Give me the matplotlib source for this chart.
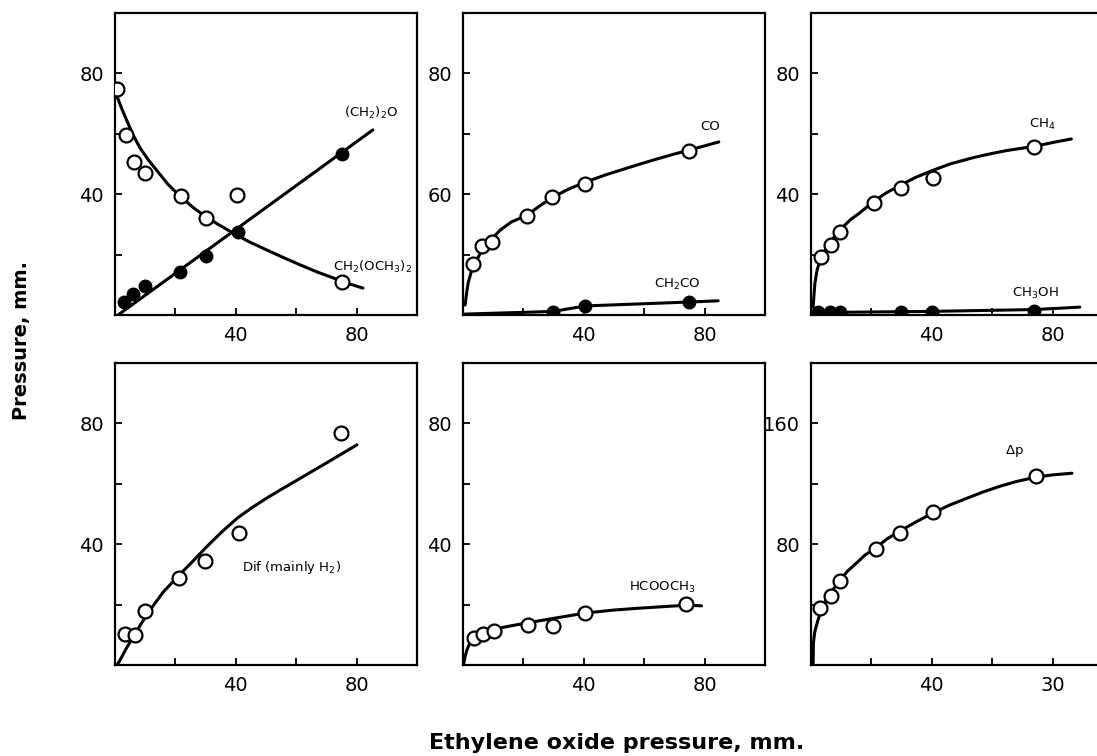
import numpy as np
import matplotlib
matplotlib.use("Agg")
import matplotlib.pyplot as plt

# ---- data (x = ethylene oxide pressure, mm) ----
# panel a: CH2(OCH3)2 (open) and (CH2)2O (filled)
dme_x = [0.5, 3.6, 6.3, 9.9, 21.9, 30.1, 40.4, 75.2]
dme_y = [75, 59.6, 50.7, 47, 39.4, 32.1, 39.7, 10.9]
dme_fit_x = [0.3, 1.5, 2.7, 4, 6, 8.3, 11, 13.9, 17.5, 21.9, 26, 30.1, 34.5, 39, 44.5, 50.3, 55.8, 61.3, 66.8, 72.2, 77, 82.1]
dme_fit_y = [73.5, 70.2, 67.2, 64.2, 59.6, 55.3, 51.4, 47.8, 43.3, 39, 35.5, 32.5, 29.8, 27.2, 24.2, 21.5, 19, 16.6, 14.3, 12.3, 10.5, 8.9]
eo_x = [3, 6, 9.9, 21.5, 30.1, 40.7, 75.2]
eo_y = [4.3, 7, 9.6, 14.2, 19.5, 27.5, 53.3]
eo_fit_x = [1, 85.4]
eo_fit_y = [0, 61.3]

# panel b: CO (open) and CH2CO (filled)
co_x = [3.3, 6.3, 9.6, 21.3, 29.6, 40.5, 74.8]
co_y = [16.9, 22.8, 24.2, 32.8, 39.1, 43.4, 54.3]
co_fit_x = [0.7, 1.2, 1.7, 2.7, 4, 5.5, 7.3, 9.5, 12.3, 16, 21.3, 25.5, 29.9, 35, 40.5, 47.5, 54.5, 60, 65.4, 70, 74.8, 80, 84.7]
co_fit_y = [3.3, 7.3, 10.6, 14.2, 17.2, 20, 22.5, 25.2, 28.1, 30.8, 33.1, 36.2, 39.1, 41.7, 44, 46.5, 48.7, 50.4, 52, 53.3, 54.6, 56, 57.3]
ket_x = [29.9, 40.5, 74.8]
ket_y = [0.9, 3, 4.3]
ket_fit_x = [0.5, 24, 30, 40.5, 75, 84.5]
ket_fit_y = [0.3, 1, 1.2, 3, 4.3, 4.7]

# panel c: CH4 (open) and CH3OH (filled)
ch4_x = [3.3, 6.6, 9.5, 20.7, 29.9, 40.5, 73.7]
ch4_y = [19.2, 23.2, 27.5, 37.1, 42.1, 45.4, 55.6]
ch4_fit_x = [0.7, 1.0, 1.3, 2, 3, 4.5, 6.3, 8, 10.2, 13, 16.1, 21, 25, 29.9, 34.5, 40.1, 46, 53.3, 59, 64.5, 69, 73.7, 80, 86.2]
ch4_fit_y = [2.6, 6.8, 10.6, 14.8, 18.2, 21.2, 23.8, 26.3, 28.8, 31.5, 33.8, 37.8, 40.5, 43.1, 45.5, 47.8, 50, 52, 53.3, 54.4, 55.1, 55.8, 57.1, 58.3]
meoh_x = [2.3, 6.3, 9.5, 29.9, 40.1, 74]
meoh_y = [1, 1, 1, 1.1, 1.1, 1.2]
meoh_fit_x = [0.5, 40, 74, 89]
meoh_fit_y = [0.8, 1.2, 1.8, 2.6]

# panel d: difference (mainly H2)
h2_x = [3.3, 6.6, 9.9, 21.2, 29.8, 41.1, 74.8]
h2_y = [10.2, 9.9, 17.8, 28.7, 34.3, 43.6, 76.9]
h2_fit_x = [0.7, 1.7, 3.8, 6, 8.8, 11.6, 16, 21.2, 26, 30.5, 35.5, 40.7, 45.5, 50.3, 55.3, 60.3, 65.2, 70.2, 75.2, 80.1]
h2_fit_y = [0, 1.7, 5.6, 9.2, 13.9, 18.2, 24.2, 29.7, 34.6, 39.3, 44.2, 48.8, 52.2, 55.3, 58.3, 61.2, 64.1, 67, 70, 72.9]

# panel e: HCOOCH3
mf_x = [3.6, 6.6, 10.2, 21.4, 29.9, 40.5, 74]
mf_y = [8.9, 10.2, 11.2, 13.2, 12.9, 17.2, 20.1]
mf_fit_x = [0.3, 0.7, 1.3, 2.2, 3.3, 4.8, 6.6, 10.5, 15.5, 21, 30.3, 40.5, 50, 58.2, 66, 74, 79]
mf_fit_y = [0.7, 2.8, 5, 7.1, 8.6, 9.7, 10.6, 11.9, 12.9, 13.9, 15.5, 17.2, 18.2, 18.8, 19.3, 19.8, 19.6]

# panel f: total pressure change
dp_x = [3, 6.6, 9.6, 21.5, 29.5, 40.4, 74.5]
dp_y = [37.5, 46, 55.3, 77, 87.5, 101.3, 125]
dp_fit_x = [0.7, 0.8, 1.2, 2, 3.6, 6.3, 9.6, 12, 15.2, 18, 21.5, 25, 29.5, 35, 40.4, 46, 51.7, 57, 62.6, 68, 74.2, 80, 86.4]
dp_fit_y = [0, 14.5, 21.5, 27.6, 38.2, 47.4, 55.9, 62, 67.8, 73, 77.6, 83.3, 88.8, 95, 100.7, 106, 110.5, 114.6, 118.4, 121.5, 124.3, 125.9, 127]

# tick labels as printed
xticklabels = [["40", "80"]] * 5 + [["40", "30"]]
yticklabels = [["40", "80"], ["60", "80"], ["40", "80"],
               ["40", "80"], ["40", "80"], ["80", "160"]]

fig = plt.figure(figsize=(10.97, 7.56), dpi=100)
W, H = 1097.0, 756.0
cols = [115, 463, 811]
rows = [315, 665]
boxes = []
for r in rows:
    for c in cols:
        boxes.append([c / W, (H - r) / H, 302 / W, 302 / H])

axs = [fig.add_axes(b) for b in boxes]

for i, ax in enumerate(axs):
    ax.set_xlim(0, 100)
    ymax = 200 if i == 5 else 100
    ax.set_ylim(0, ymax)
    ax.set_xticks([20, 40, 60, 80])
    ax.set_xticklabels(["", xticklabels[i][0], "", xticklabels[i][1]])
    yt = [40, 80, 120, 160] if i == 5 else [20, 40, 60, 80]
    ax.set_yticks(yt)
    ax.set_yticklabels(["", yticklabels[i][0], "", yticklabels[i][1]])
    ax.tick_params(direction="in", length=5, width=1.3, labelsize=14, pad=8)
    for s in ax.spines.values():
        s.set_linewidth(1.6)

op = dict(marker="o", ms=10, mfc="white", mec="black", mew=1.6, ls="none", zorder=3)
fl = dict(marker="o", ms=9, mfc="black", mec="black", ls="none", zorder=3)
ln = dict(color="black", lw=2.2, solid_capstyle="round", solid_joinstyle="round")
lab = dict(fontsize=9.5, clip_on=False)

ax = axs[0]
ax.plot(dme_fit_x, dme_fit_y, **ln)
ax.plot(eo_fit_x, eo_fit_y, **ln)
ax.plot(dme_x, dme_y, **op)
ax.plot(eo_x, eo_y, **fl)
ax.text(84.8, 67, r"(CH$_2$)$_2$O", ha="center", va="center", **lab)
ax.text(72.2, 16, r"CH$_2$(OCH$_3$)$_2$", ha="left", va="center", **lab)

ax = axs[1]
ax.plot(co_fit_x, co_fit_y, **ln)
ax.plot(ket_fit_x, ket_fit_y, **ln)
ax.plot(co_x, co_y, **op)
ax.plot(ket_x, ket_y, **fl)
ax.text(81.7, 62.3, "CO", ha="center", va="center", **lab)
ax.text(71, 10, r"CH$_2$CO", ha="center", va="center", **lab)

ax = axs[2]
ax.plot(ch4_fit_x, ch4_fit_y, **ln)
ax.plot(meoh_fit_x, meoh_fit_y, **ln)
ax.plot(ch4_x, ch4_y, **op)
ax.plot(meoh_x, meoh_y, **fl)
ax.text(76.6, 63, r"CH$_4$", ha="center", va="center", **lab)
ax.text(74.3, 7.3, r"CH$_3$OH", ha="center", va="center", **lab)

ax = axs[3]
ax.plot(h2_fit_x, h2_fit_y, **ln)
ax.plot(h2_x, h2_y, **op)
ax.text(42, 32.3, r"Dif (mainly H$_2$)", ha="left", va="center", **lab)

ax = axs[4]
ax.plot(mf_fit_x, mf_fit_y, **ln)
ax.plot(mf_x, mf_y, **op)
ax.text(66, 25.7, r"HCOOCH$_3$", ha="center", va="center", **lab)

ax = axs[5]
ax.plot(dp_fit_x, dp_fit_y, **ln)
ax.plot(dp_x, dp_y, **op)
ax.text(67.2, 141.4, r"$\Delta$p", ha="center", va="center", **lab)

fig.text(22 / W, 1 - 340 / H, "Pressure, mm.", rotation=90, ha="center", va="center",
         fontsize=14, fontweight="semibold")
fig.text(617 / W, 1 - 743 / H, "Ethylene oxide pressure, mm.", ha="center", va="center",
         fontsize=16, fontweight="semibold")

fig.savefig("out.png", dpi=100)
